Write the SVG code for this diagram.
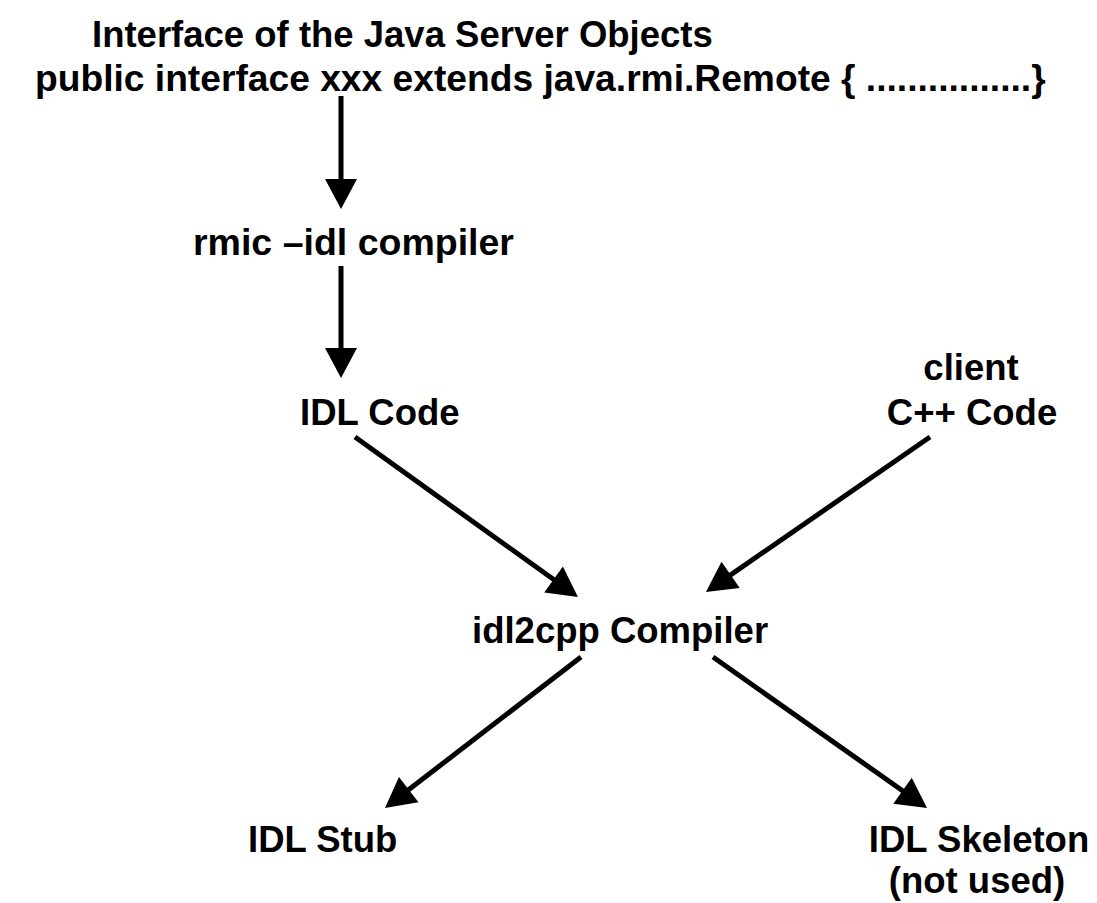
<svg xmlns="http://www.w3.org/2000/svg" width="1097" height="903" viewBox="0 0 1097 903">
  <style>
    .lbl { font-family: "Liberation Sans", Arial, sans-serif; font-weight: bold; font-size: 36.5px; fill: #000; }
    .mid { text-anchor: middle; }
    .edge { stroke: #000; stroke-width: 5; fill: none; marker-end: url(#head); }
  </style>
  <defs>
    <!-- solid triangular arrowhead; tip sits 20px past the line end -->
    <marker id="head" markerUnits="userSpaceOnUse" markerWidth="32" markerHeight="32" refX="10" refY="16" orient="auto" overflow="visible">
      <path d="M0,0 L30,16 L0,32 Z" fill="#000"/>
    </marker>
  </defs>
  <rect width="1097" height="903" fill="#fff"/>

  <g id="java-interface">
    <text class="lbl" x="92" y="47">Interface of the Java Server Objects</text>
    <text class="lbl" x="35" y="91" style="font-size:37.2px">public interface xxx extends java.rmi.Remote { ................}</text>
  </g>
  <g id="rmic">
    <text class="lbl" x="193" y="255" style="font-size:37.5px">rmic –idl compiler</text>
  </g>
  <g id="idl-code">
    <text class="lbl" x="300" y="425">IDL Code</text>
  </g>
  <g id="client-code">
    <text class="lbl mid" x="971" y="380">client</text>
    <text class="lbl mid" x="972" y="425">C++ Code</text>
  </g>
  <g id="idl2cpp">
    <text class="lbl" x="472" y="643">idl2cpp Compiler</text>
  </g>
  <g id="idl-stub">
    <text class="lbl" x="248" y="852">IDL Stub</text>
  </g>
  <g id="idl-skeleton">
    <text class="lbl mid" x="979" y="852">IDL Skeleton</text>
    <text class="lbl mid" x="977" y="893">(not used)</text>
  </g>

  <g id="connectors">
    <line class="edge" x1="341" y1="96" x2="341" y2="189"/>
    <line class="edge" x1="341" y1="266" x2="341" y2="358"/>
    <line class="edge" x1="355" y1="437" x2="561.7" y2="585.3"/>
    <line class="edge" x1="930" y1="437" x2="722.4" y2="580.6"/>
    <line class="edge" x1="581" y1="657" x2="400.8" y2="795.8"/>
    <line class="edge" x1="713" y1="657" x2="910.7" y2="796.5"/>
  </g>
</svg>
